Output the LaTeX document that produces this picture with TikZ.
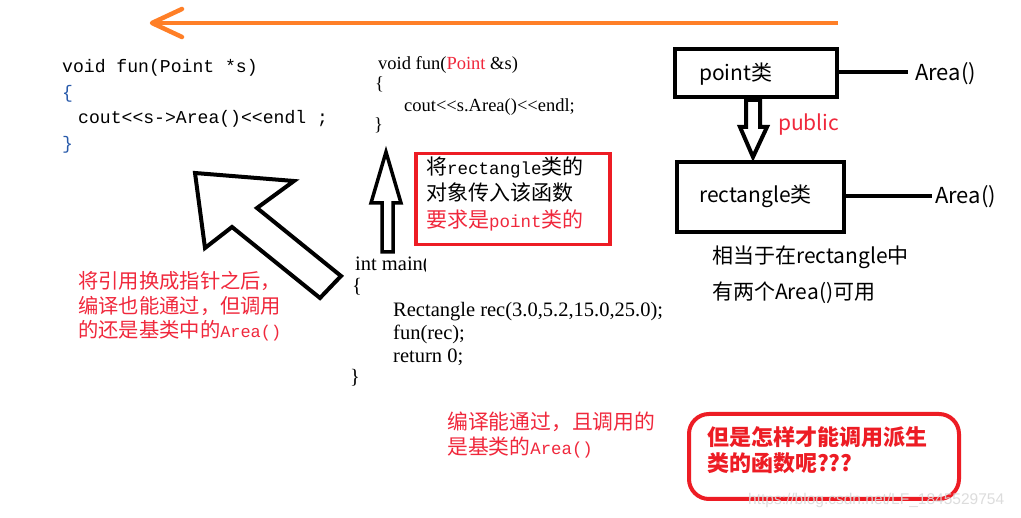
\documentclass[tikz,border=0pt]{standalone}
\usepackage{fontspec}
\setmainfont{Liberation Serif}
\newfontfamily\cjk{Noto Sans CJK SC}
\newfontfamily\cmono[Scale=0.8333]{Liberation Mono}
\newfontfamily\codemono{Liberation Mono}
\newfontfamily\wmfont{Liberation Sans}
\definecolor{rd}{RGB}{237,28,36}
\definecolor{rtxt}{RGB}{240,40,60}
\definecolor{org}{RGB}{255,127,39}
\definecolor{brc}{RGB}{40,90,170}
\tikzset{
  lcode/.style={anchor=base west, inner sep=0pt, font=\codemono\fontsize{18.1}{18}\selectfont},
  fcode/.style={anchor=base west, inner sep=0pt, font=\fontsize{18.5}{18}\selectfont},
  mcode/.style={anchor=base west, inner sep=0pt, font=\fontsize{20.5}{20}\selectfont},
  rnote/.style={anchor=west, inner sep=0pt, text=rtxt, font=\cjk\fontsize{20.3}{20}\selectfont},
  snote/.style={anchor=west, inner sep=0pt, font=\cjk\fontsize{21}{21}\selectfont},
  classbox/.style={draw=black, line width=4pt, inner sep=0pt},
  hollow/.style={draw=black, line width=4pt, fill=white, line join=miter},
  stub/.style={draw=black, line width=4pt},
}
\begin{document}
\begin{tikzpicture}[x=1pt,y=-1pt]
\useasboundingbox[fill=white] (0,0) rectangle (1021,518);

% orange arrow
\coordinate (os) at (838,23);
\coordinate (oe) at (152,23);
\coordinate (oh1) at (182,9);
\coordinate (oh2) at (182,37);
\draw[org, line width=4.5pt] (os) -- (oe);
\draw[org, line width=4.5pt, line cap=round, line join=round] (oh1) -- (oe) -- (oh2);

% left code
\node[lcode] (l1) at (62,73) {void fun(Point *s)};
\node[lcode, text=brc] (l2) at (62,99) {\{};
\node[lcode] (l3) at (78,124) {cout<<s->Area()<<endl ;};
\node[lcode, text=brc] (l4) at (62,150) {\}};

% big hollow arrow
\draw[hollow] (195,173) -- (294,181) -- (257,208) -- (341,276) -- (320,298) -- (232,227) -- (205,248) -- cycle;

% left red note
\node[rnote] (n1) at (78,281) {将引用换成指针之后，};
\node[rnote] (n2) at (78,306) {编译也能通过，但调用};
\node[rnote] (n3) at (78,331) {的还是基类中的{\cmono Area()}};

% middle fun code
\node[fcode] (f1) at (378,70) {void fun(\textcolor{rtxt}{Point} \&s)};
\node[fcode] (f2) at (375,90) {\{};
\node[fcode] (f3) at (404,112) {cout{<}{<}s.Area(){<}{<}endl;};
\node[fcode] (f4) at (374,131) {\}};

% small up arrow
\draw[hollow, line width=3.5pt] (386,152) -- (401,203) -- (393,203) -- (393,252) -- (382,252) -- (382,203) -- (371,203) -- cycle;

% red box
\node[draw=rd, line width=3.5pt, minimum width=194pt, minimum height=91pt, inner sep=0pt, anchor=north west] (rbox) at (414,152) {};
\node[snote] (r1) at (426,167) {将{\cmono rectangle}类的};
\node[snote] (r2) at (426,193) {对象传入该函数};
\node[snote, text=rtxt] (r3) at (426,220) {要求是{\cmono point}类的};

% main code
\begin{scope}
\clip (340,250) rectangle (425,280);
\node[mcode] (m1) at (355,271) {int main()};
\end{scope}
\node[mcode] (m2) at (352,293) {\{};
\node[mcode] (m3) at (393,317) {Rectangle rec(3.0,5.2,15.0,25.0);};
\node[mcode] (m4) at (393,340) {fun(rec);};
\node[mcode] (m5) at (393,363) {return 0;};
\node[mcode] (m6) at (350,384) {\}};

% middle red note
\node[rnote, font=\cjk\fontsize{20.8}{20}\selectfont] (c1) at (447,422) {编译能通过，且调用的};
\node[rnote, font=\cjk\fontsize{20.8}{20}\selectfont] (c2) at (447,448) {是基类的{\cmono Area()}};

% class diagram
\node[classbox, minimum width=162pt, minimum height=48pt, anchor=north west] (pbox) at (673,47) {};
\node[snote] (ptxt) at (699,74) {point类};
\coordinate (pa) at (908,72);
\draw[stub] (pbox.east |- pa) -- (pa);
\node[snote, font=\cjk\fontsize{22}{22}\selectfont] (parea) at (915,74) {Area()};

\draw[hollow] (746,100) -- (760,100) -- (760,127) -- (767,127) -- (753,157) -- (740,127) -- (746,127) -- cycle;
\node[snote, text=rtxt] (pub) at (778,125) {public};

\node[classbox, minimum width=167pt, minimum height=70pt, anchor=north west] (rcbox) at (675,160) {};
\node[snote] (rctxt) at (699,196) {rectangle类};
\coordinate (ra) at (932,196);
\draw[stub] (rcbox.east |- ra) -- (ra);
\node[snote, font=\cjk\fontsize{22}{22}\selectfont] (rarea) at (935,197) {Area()};

\node[snote] (e1) at (712,257) {相当于在rectangle中};
\node[snote] (e2) at (712,293) {有两个Area()可用};

% bottom rounded box
\node[draw=rd, line width=4pt, rounded corners=20pt, minimum width=270pt, minimum height=85pt, inner sep=0pt, anchor=north west] (qbox) at (687,412) {};
\node[anchor=west, inner sep=0pt, text=rd, font=\cjk\bfseries\fontsize{22}{22}\selectfont] (q1) at (707,437) {但是怎样才能调用派生};
\node[anchor=west, inner sep=0pt, text=rd, font=\cjk\bfseries\fontsize{22}{22}\selectfont] (q2) at (707,463) {类的函数呢???};

% watermark
\node[anchor=west, inner sep=0pt, text=gray!30, text opacity=0.9, font=\wmfont\fontsize{15.5}{15}\selectfont] (wm) at (748,500) {https://blog.csdn.net/LF\_1845529754};
\end{tikzpicture}
\end{document}
